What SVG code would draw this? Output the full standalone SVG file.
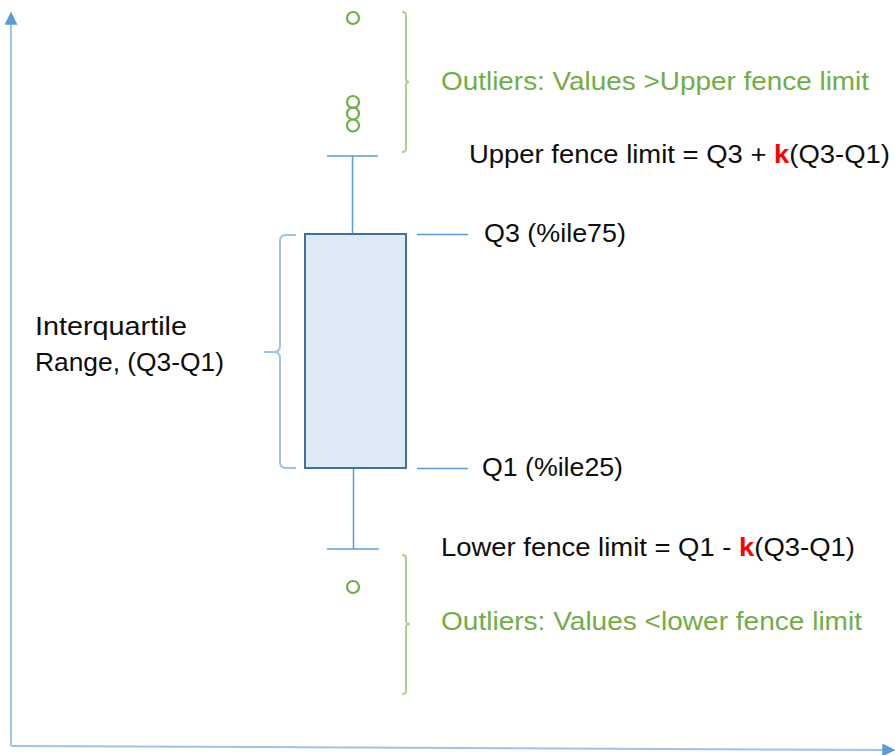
<svg xmlns="http://www.w3.org/2000/svg" width="895" height="755" viewBox="0 0 895 755">
<style>
.t{font-family:"Liberation Sans",Arial,sans-serif;font-size:25px;fill:#0d0d0d}
.g{fill:#70AD47}
.k{fill:#FF0000;font-weight:bold}
.axis{stroke:#9DC3E6;stroke-width:2;fill:none}
.wh{stroke:#5B9BD5;stroke-width:1.5;fill:none}
.out{stroke:#70AD47;stroke-width:2.2;fill:none}
.gbr{stroke:#A9D18E;stroke-width:2;fill:none}
.bbr{stroke:#9DC3E6;stroke-width:2;fill:none}
</style>
<defs>
<marker id="ah" viewBox="0 0 10 10" refX="9" refY="5" markerWidth="6.5" markerHeight="6.5" orient="auto" markerUnits="strokeWidth">
<path d="M0,0 L10,5 L0,10 z" fill="#5B9BD5"/>
</marker>
</defs>
<rect width="895" height="755" fill="#ffffff"/>
<g id="connectors">
<line class="axis" x1="11" y1="746" x2="11" y2="13" marker-end="url(#ah)"/>
<line class="axis" x1="11" y1="746" x2="894" y2="750" marker-end="url(#ah)"/>
<line class="wh" x1="352.5" y1="156" x2="352.5" y2="234"/>
<line class="wh" x1="327" y1="156" x2="378" y2="156"/>
<line class="wh" x1="353.5" y1="468" x2="353.5" y2="549"/>
<line class="wh" x1="327" y1="549" x2="379" y2="549"/>
<line class="wh" x1="417" y1="234.5" x2="468" y2="234.5"/>
<line class="wh" x1="417" y1="468.5" x2="468" y2="468.5"/>
</g>
<g id="box">
<rect x="305" y="234" width="101" height="234" fill="#DEEBF7" stroke="#41719C" stroke-width="2"/>
</g>
<g id="outliers-top">
<circle class="out" cx="353" cy="18" r="6"/>
<circle class="out" cx="353" cy="102" r="6"/>
<circle class="out" cx="353" cy="113.5" r="6"/>
<circle class="out" cx="353" cy="125.5" r="6"/>
</g>
<g id="outliers-bottom">
<circle class="out" cx="353" cy="587" r="6"/>
</g>
<g id="bracket-top">
<path class="gbr" d="M402,12 Q406,12 406,15 L406,79 Q406,82 409,82 Q406,82 406,85 L406,149 Q406,152 402,152"/>
</g>
<g id="bracket-bottom">
<path class="gbr" d="M402,555 Q406,555 406,558 L406,621 Q406,624 410,624 Q406,624 406,627 L406,691 Q406,694 402,694"/>
</g>
<g id="bracket-iqr">
<path class="bbr" d="M296,235 L286,235 Q280,235 280,241 L280,346 Q280,352 274,352 L264,352 L274,352 Q280,352 280,358 L280,462 Q280,468 286,468 L296,468"/>
</g>
<g id="label-outliers-upper">
<text class="t g" x="441" y="90" textLength="428" lengthAdjust="spacingAndGlyphs">Outliers: Values &gt;Upper fence limit</text>
</g>
<g id="label-upper-fence">
<text class="t" x="469" y="163" textLength="421" lengthAdjust="spacingAndGlyphs">Upper fence limit = Q3 + <tspan class="k">k</tspan>(Q3-Q1)</text>
</g>
<g id="label-q3">
<text class="t" x="484" y="242" textLength="142" lengthAdjust="spacingAndGlyphs">Q3 (%ile75)</text>
</g>
<g id="label-iqr">
<text class="t" x="35" y="335" textLength="152" lengthAdjust="spacingAndGlyphs">Interquartile</text>
<text class="t" x="35" y="371" textLength="189" lengthAdjust="spacingAndGlyphs">Range, (Q3-Q1)</text>
</g>
<g id="label-q1">
<text class="t" x="482" y="476" textLength="141" lengthAdjust="spacingAndGlyphs">Q1 (%ile25)</text>
</g>
<g id="label-lower-fence">
<text class="t" x="441" y="556" textLength="414" lengthAdjust="spacingAndGlyphs">Lower fence limit = Q1 - <tspan class="k">k</tspan>(Q3-Q1)</text>
</g>
<g id="label-outliers-lower">
<text class="t g" x="441" y="630" textLength="421" lengthAdjust="spacingAndGlyphs">Outliers: Values &lt;lower fence limit</text>
</g>
</svg>
